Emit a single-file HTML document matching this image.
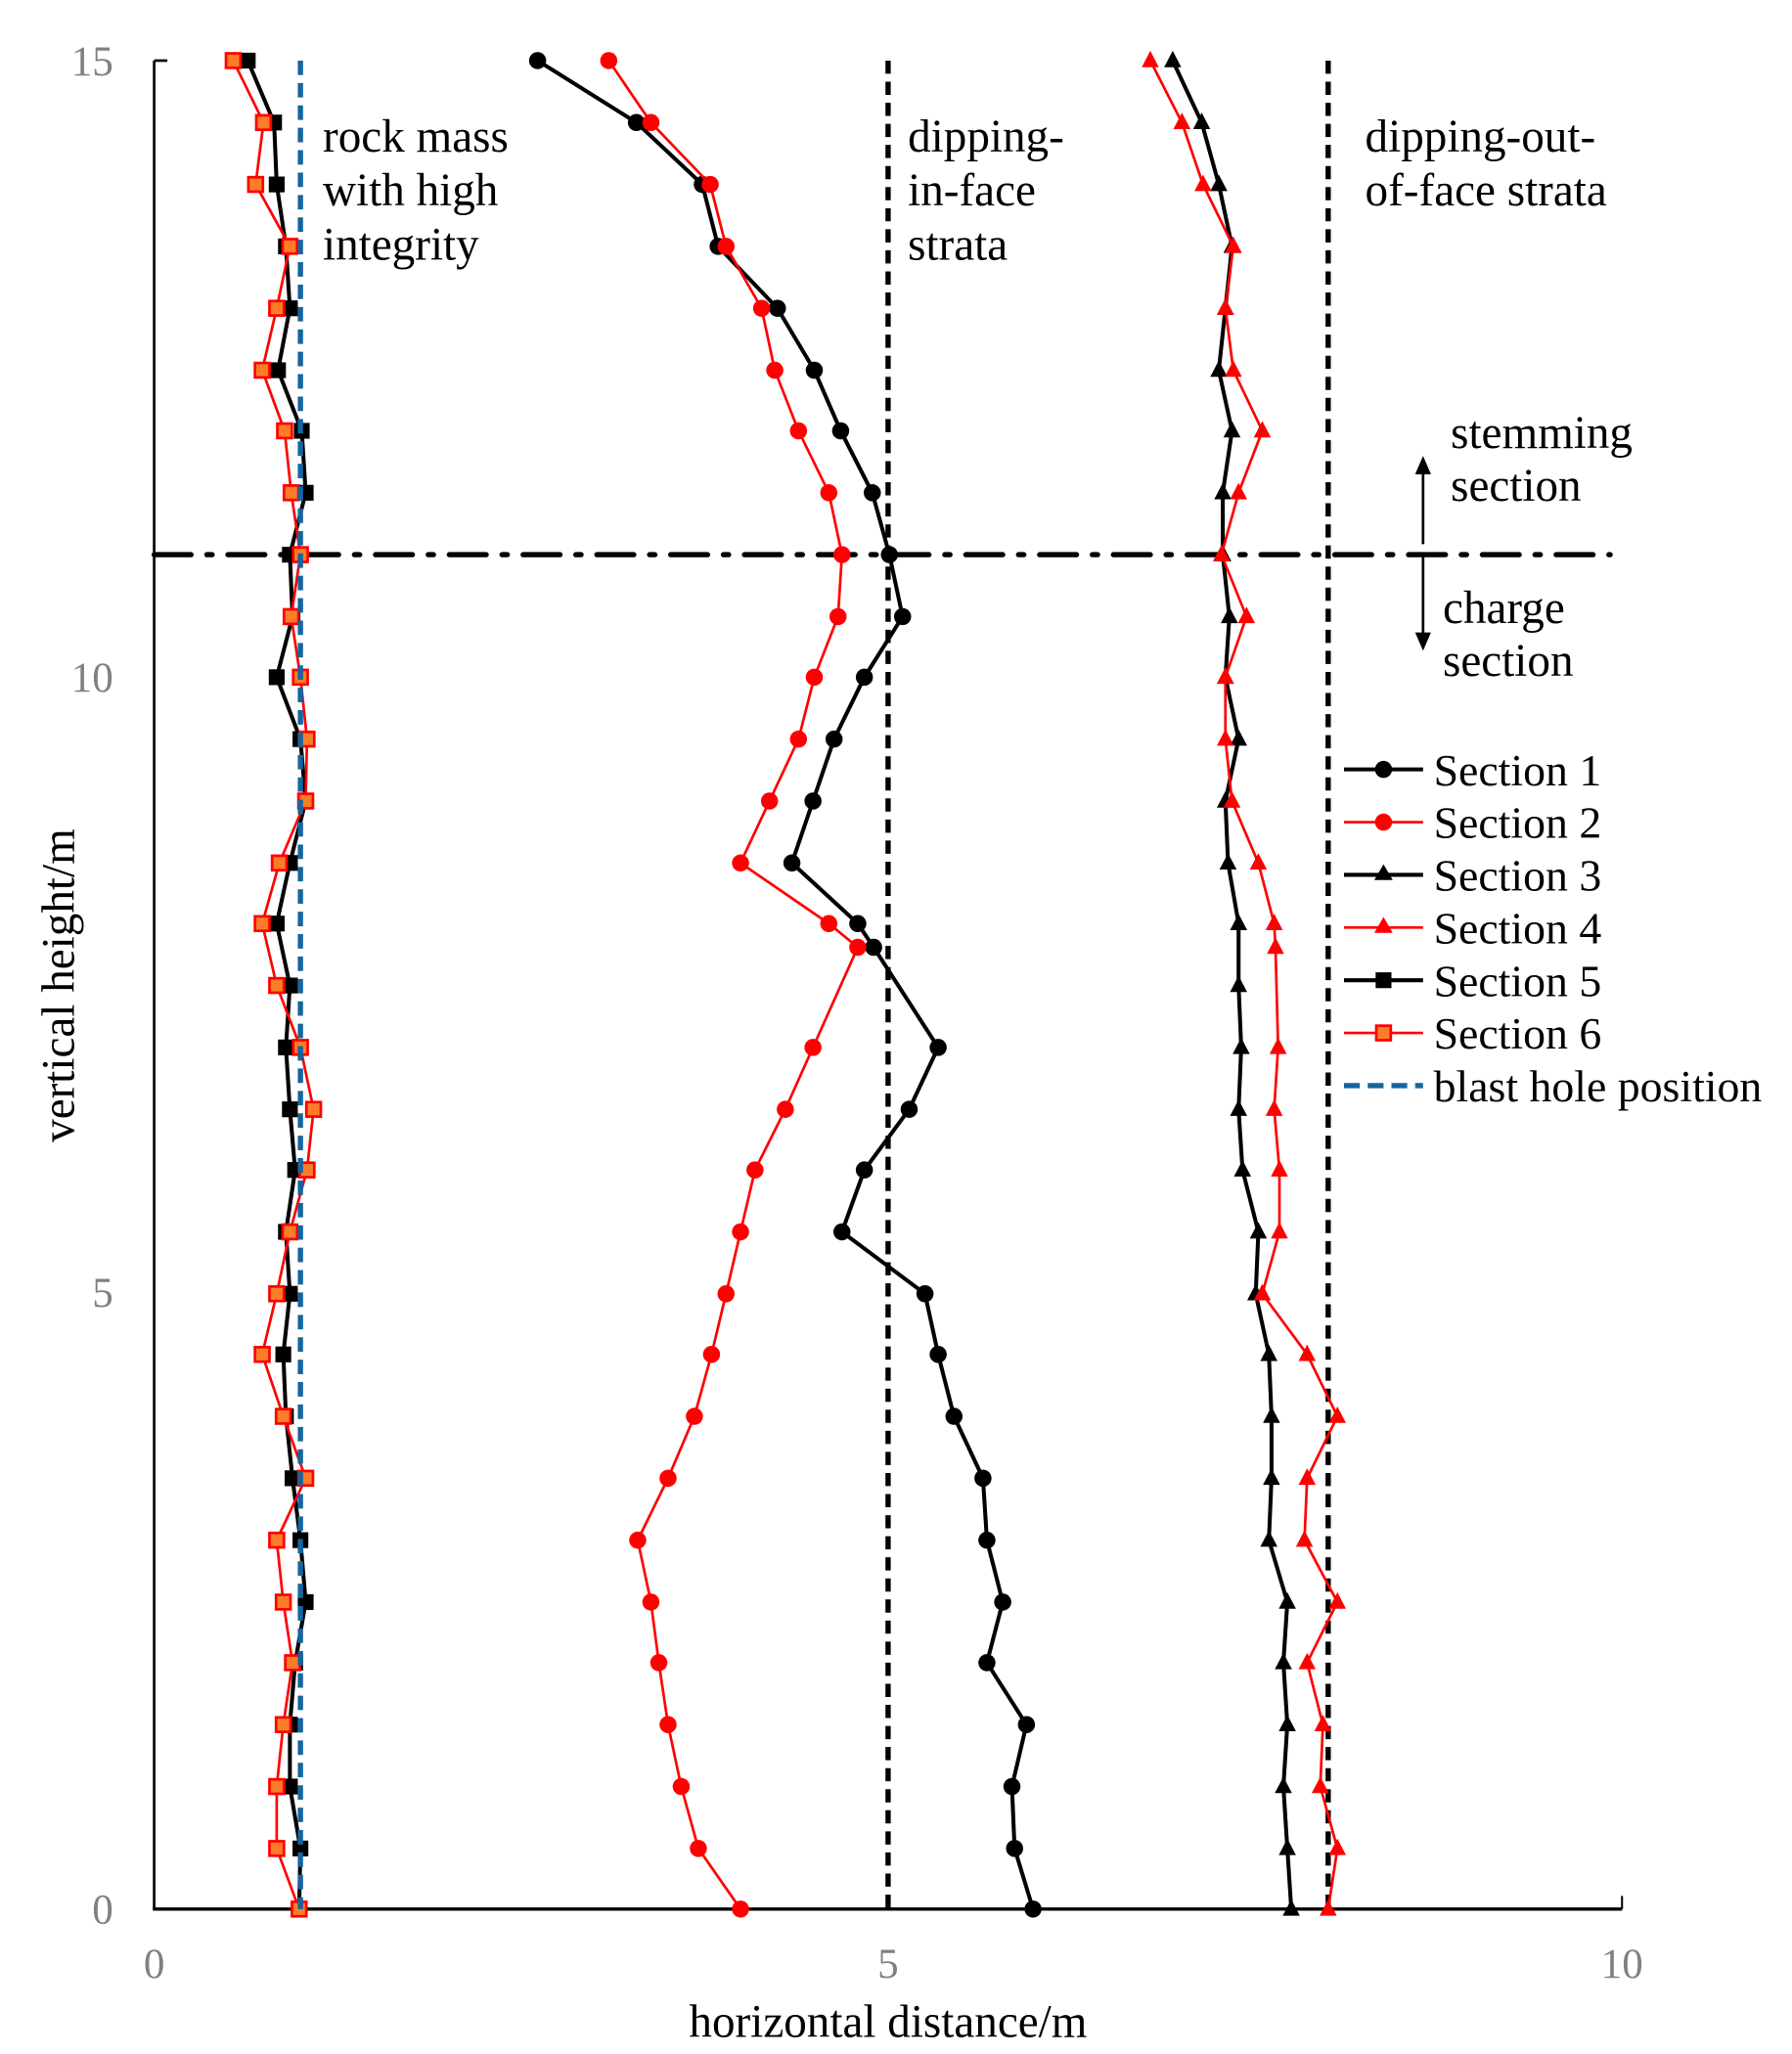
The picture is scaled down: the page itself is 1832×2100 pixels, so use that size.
<!DOCTYPE html>
<html><head><meta charset="utf-8"><style>html,body{margin:0;padding:0;background:#fff}svg{display:block}</style></head>
<body>
<svg width="1832" height="2100" viewBox="0 0 1360 1559" preserveAspectRatio="none" xmlns="http://www.w3.org/2000/svg" font-family="'Liberation Serif',serif">
<defs>
<marker id="c1" markerUnits="userSpaceOnUse" markerWidth="20" markerHeight="20" refX="10" refY="10" viewBox="0 0 20 20"><circle cx="10" cy="10" r="6.5" fill="#000"/></marker>
<marker id="c2" markerUnits="userSpaceOnUse" markerWidth="20" markerHeight="20" refX="10" refY="10" viewBox="0 0 20 20"><circle cx="10" cy="10" r="6.5" fill="#f00"/></marker>
<marker id="t3" markerUnits="userSpaceOnUse" markerWidth="20" markerHeight="20" refX="10" refY="10" viewBox="0 0 20 20"><polygon points="10,2.5 16.5,15 3.5,15" fill="#000"/></marker>
<marker id="t4" markerUnits="userSpaceOnUse" markerWidth="20" markerHeight="20" refX="10" refY="10" viewBox="0 0 20 20"><polygon points="10,2.5 16.5,15 3.5,15" fill="#f00"/></marker>
<marker id="s5" markerUnits="userSpaceOnUse" markerWidth="20" markerHeight="20" refX="10" refY="10" viewBox="0 0 20 20"><rect x="4" y="4" width="12" height="12" fill="#000"/></marker>
<marker id="s6" markerUnits="userSpaceOnUse" markerWidth="20" markerHeight="20" refX="10" refY="10" viewBox="0 0 20 20"><rect x="4.5" y="4.5" width="11" height="11" fill="#fb7d2a" stroke="#f00" stroke-width="2"/></marker>
</defs>

<line x1="117" y1="46" x2="117" y2="1449" stroke="#000" stroke-width="2"/>
<line x1="117" y1="46" x2="127" y2="46" stroke="#000" stroke-width="2"/>
<line x1="116" y1="1449" x2="1231" y2="1449" stroke="#000" stroke-width="2.5"/>
<line x1="1231" y1="1439" x2="1231" y2="1449" stroke="#000" stroke-width="1.5"/>

<line x1="674" y1="46" x2="674" y2="1449" stroke="#000" stroke-width="4" stroke-dasharray="10,6"/>
<line x1="1008" y1="46" x2="1008" y2="1449" stroke="#000" stroke-width="4" stroke-dasharray="10,6"/>
<line x1="117" y1="421" x2="1222" y2="421" stroke="#000" stroke-width="4" stroke-dasharray="28,12,4,12" stroke-linecap="round"/>

<line x1="1080" y1="413" x2="1080" y2="358" stroke="#000" stroke-width="2"/>
<polygon points="1080,346 1074,360 1086,360" fill="#000"/>
<line x1="1080" y1="421" x2="1080" y2="482" stroke="#000" stroke-width="2"/>
<polygon points="1080,494 1074,480 1086,480" fill="#000"/>

<polyline fill="none" stroke="#000" stroke-width="3" marker-start="url(#c1)" marker-mid="url(#c1)" marker-end="url(#c1)" points="408,46 483,93 533,140 545,187 590,234 618,281 638,327 662,374 675,421 685,468 656,514 633,561 617,608 601,655 651,701 663,719 712,795 690,842 656,888 639,935 702,982 712,1028 724,1075 746,1122 749,1169 761,1216 749,1262 779,1309 768,1356 770,1403 784,1449"/>
<polyline fill="none" stroke="#f00" stroke-width="2" marker-start="url(#c2)" marker-mid="url(#c2)" marker-end="url(#c2)" points="462,46 494,93 539,140 551,187 578,234 588,281 606,327 629,374 639,421 636,468 618,514 606,561 584,608 562,655 629,701 651,719 617,795 596,842 573,888 562,935 551,982 540,1028 527,1075 507,1122 484,1169 494,1216 500,1262 507,1309 517,1356 530,1403 562,1449"/>
<polyline fill="none" stroke="#000" stroke-width="3" marker-start="url(#t3)" marker-mid="url(#t3)" marker-end="url(#t3)" points="890,46 912,93 925,140 935,187 930,234 925,281 935,327 928,374 928,421 933,468 930,514 940,561 930,608 932,655 940,701 940,748 942,795 940,842 943,888 955,935 953,982 963,1028 965,1075 965,1122 963,1169 977,1216 974,1262 977,1309 974,1356 977,1403 980,1449"/>
<polyline fill="none" stroke="#f00" stroke-width="2" marker-start="url(#t4)" marker-mid="url(#t4)" marker-end="url(#t4)" points="873,46 897,93 913,140 936,187 930,234 936,281 958,327 940,374 927,421 946,468 930,514 930,561 935,608 955,655 967,701 968,719 970,795 967,842 971,888 971,935 958,982 992,1028 1015,1075 992,1122 990,1169 1015,1216 992,1262 1004,1309 1002,1356 1015,1403 1008,1449"/>
<polyline fill="none" stroke="#000" stroke-width="3" marker-start="url(#s5)" marker-mid="url(#s5)" marker-end="url(#s5)" points="188,46 208,93 210,140 217,187 220,234 211,281 229,327 232,374 220,421 222,468 210,514 228,561 232,608 220,655 210,701 220,748 217,795 220,842 224,888 217,935 220,982 215,1028 217,1075 222,1122 228,1169 232,1216 224,1262 220,1309 220,1356 228,1403 227,1449"/>
<polyline fill="none" stroke="#f00" stroke-width="2" marker-start="url(#s6)" marker-mid="url(#s6)" marker-end="url(#s6)" points="177,46 200,93 194,140 220,187 210,234 199,281 216,327 221,374 228,421 221,468 228,514 233,561 232,608 212,655 199,701 210,748 228,795 238,842 233,888 220,935 210,982 199,1028 215,1075 232,1122 210,1169 215,1216 222,1262 215,1309 210,1356 210,1403 227,1449"/>
<line x1="228" y1="46" x2="228" y2="1449" stroke="#1565a0" stroke-width="4" stroke-dasharray="11,6"/>

<g fill="#808080" font-size="32">
<text x="86" y="57" text-anchor="end">15</text>
<text x="86" y="525" text-anchor="end">10</text>
<text x="86" y="992" text-anchor="end">5</text>
<text x="86" y="1460" text-anchor="end">0</text>
<text x="117" y="1501" text-anchor="middle">0</text>
<text x="674" y="1501" text-anchor="middle">5</text>
<text x="1231" y="1501" text-anchor="middle">10</text>
</g>
<g fill="#000" font-size="35">
<text x="674" y="1546" text-anchor="middle">horizontal distance/m</text>
<text transform="translate(56,748) rotate(-90)" text-anchor="middle">vertical height/m</text>
<text x="245" y="115">rock mass</text>
<text x="245" y="156">with high</text>
<text x="245" y="197">integrity</text>
<text x="689" y="115">dipping-</text>
<text x="689" y="156">in-face</text>
<text x="689" y="197">strata</text>
<text x="1036" y="115">dipping-out-</text>
<text x="1036" y="156">of-face strata</text>
<text x="1101" y="340">stemming</text>
<text x="1101" y="380">section</text>
<text x="1095" y="473">charge</text>
<text x="1095" y="513">section</text>
</g>

<g font-size="34" fill="#000">
<line x1="1020" y1="584" x2="1080" y2="584" stroke="#000" stroke-width="3"/><circle cx="1050" cy="584" r="6.5"/>
<text x="1088" y="596">Section 1</text>
<line x1="1020" y1="624" x2="1080" y2="624" stroke="#f00" stroke-width="2"/><circle cx="1050" cy="624" r="6.5" fill="#f00"/>
<text x="1088" y="636">Section 2</text>
<line x1="1020" y1="664" x2="1080" y2="664" stroke="#000" stroke-width="3"/><polygon points="1050,656 1057,668 1043,668"/>
<text x="1088" y="676">Section 3</text>
<line x1="1020" y1="704" x2="1080" y2="704" stroke="#f00" stroke-width="2"/><polygon points="1050,696 1057,708 1043,708" fill="#f00"/>
<text x="1088" y="716">Section 4</text>
<line x1="1020" y1="744" x2="1080" y2="744" stroke="#000" stroke-width="3"/><rect x="1044" y="738" width="12" height="12"/>
<text x="1088" y="756">Section 5</text>
<line x1="1020" y1="784" x2="1080" y2="784" stroke="#f00" stroke-width="2"/><rect x="1044.5" y="778.5" width="11" height="11" fill="#fb7d2a" stroke="#f00" stroke-width="2"/>
<text x="1088" y="796">Section 6</text>
<line x1="1020" y1="824" x2="1080" y2="824" stroke="#1565a0" stroke-width="4" stroke-dasharray="12,6"/>
<text x="1088" y="836">blast hole position</text>
</g>
</svg>
</body></html>
